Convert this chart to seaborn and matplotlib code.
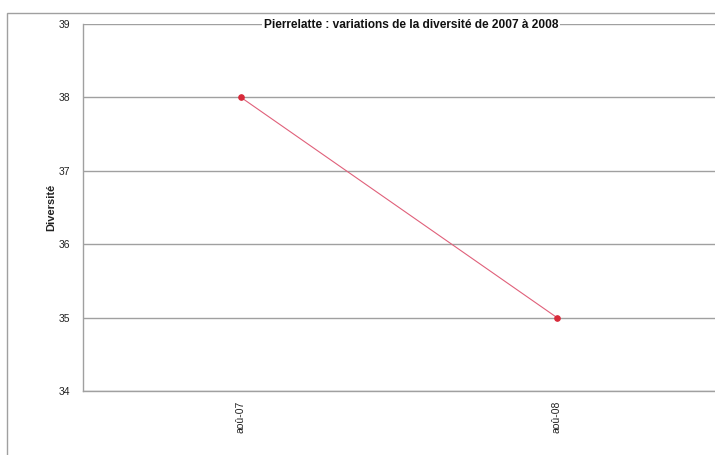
import matplotlib
matplotlib.use("Agg")
import seaborn as sns
from matplotlib import pyplot as plt
from matplotlib.patches import Rectangle

# Data
periods = ["aoû-07", "aoû-08"]
diversity = [38, 35]
y_ticks = [34, 35, 36, 37, 38, 39]

title = "Pierrelatte : variations de la diversité de 2007 à 2008"
y_label = "Diversité"

sns.set_theme(style="white")
plt.rcParams['font.family'] = ['Liberation Sans', 'DejaVu Sans']

fig = plt.figure(figsize=(7.15, 4.55), dpi=100)
ax = fig.add_axes([83 / 715, 1 - 391 / 455, 1 - 83 / 715, (391 - 24) / 455])

grid_color = "#a0a0a0"

# Horizontal gridlines
for v in y_ticks:
    ax.axhline(v, color=grid_color, lw=1.0, zorder=0)

sns.lineplot(
    x=periods, y=diversity, ax=ax,
    color="#e0607a", lw=0.8, marker="o", markersize=4,
    markerfacecolor="#d82a3a", markeredgecolor="#d82a3a", zorder=3,
)

ax.set_xlim(-0.5, 1.5)
ax.set_ylim(34, 39)
ax.set_yticks(y_ticks)
ax.set_yticklabels([str(v) for v in y_ticks], fontsize=7.5, color="#222222")
ax.set_xticks(range(len(periods)))
ax.set_xticklabels(periods, rotation=90, fontsize=7.5, color="#222222")
ax.set_xticks([0.5], minor=True)
ax.tick_params(axis="x", which="major", length=0, pad=7)
ax.tick_params(axis="x", which="minor", length=3, color=grid_color, direction="out")
ax.tick_params(axis="y", length=5, color=grid_color, direction="out", pad=4)
ax.set_xlabel("")
ax.set_ylabel(y_label, fontsize=8, fontweight="bold", color="#222222", labelpad=2)

for side in ["top", "right"]:
    ax.spines[side].set_visible(False)
for side in ["left", "bottom"]:
    ax.spines[side].set_color(grid_color)
    ax.spines[side].set_linewidth(1.0)

# Title sitting on top gridline
ax.text(0.519, 0.998, title, transform=ax.transAxes, ha="center", va="center",
        fontsize=8.6, fontweight="bold", color="#111111", zorder=5,
        bbox=dict(facecolor="white", edgecolor="none", pad=1.5))

# Outer chart border
fig.patches.append(Rectangle((7 / 715, -0.1), 1.2, 1 - 13 / 455 + 0.1,
                             transform=fig.transFigure, fill=False,
                             edgecolor="#a0a0a0", lw=1.0))

fig.savefig("out.png", dpi=100)
